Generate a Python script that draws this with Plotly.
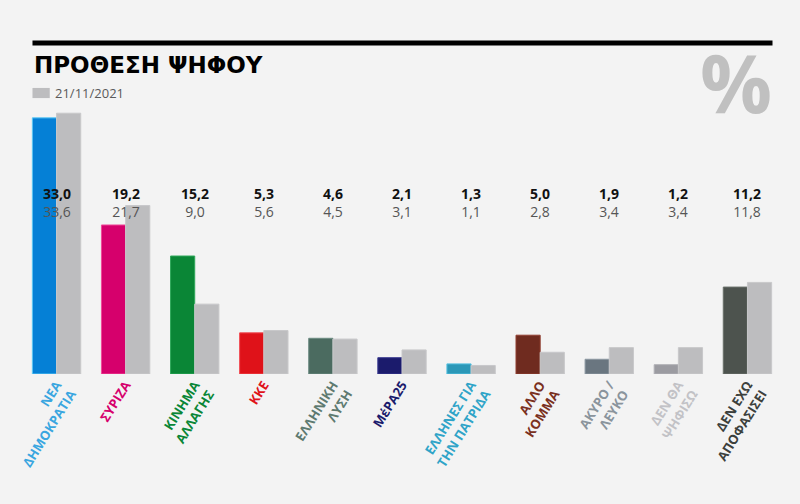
import plotly.graph_objects as go

# party / answer labels (two lines where the original wraps)
categories = [
    "ΝΕΑ<br>ΔΗΜΟΚΡΑΤΙΑ", "ΣΥΡΙΖΑ", "ΚΙΝΗΜΑ<br>ΑΛΛΑΓΗΣ", "ΚΚΕ", "ΕΛΛΗΝΙΚΗ<br>ΛΥΣΗ",
    "ΜέΡΑ25", "ΕΛΛΗΝΕΣ ΓΙΑ<br>ΤΗΝ ΠΑΤΡΙΔΑ", "ΑΛΛΟ<br>ΚΟΜΜΑ", "ΑΚΥΡΟ /<br>ΛΕΥΚΟ",
    "ΔΕΝ ΘΑ<br>ΨΗΦΙΣΩ", "ΔΕΝ ΕΧΩ<br>ΑΠΟΦΑΣΙΣΕΙ",
]
current = [33.0, 19.2, 15.2, 5.3, 4.6, 2.1, 1.3, 5.0, 1.9, 1.2, 11.2]
previous = [33.6, 21.7, 9.0, 5.6, 4.5, 3.1, 1.1, 2.8, 3.4, 3.4, 11.8]
previous_date = "21/11/2021"

bar_colors = ["#0580d6", "#d6006c", "#0a8636", "#df1219", "#4b6b60", "#1b1b6c",
              "#2b98b8", "#6f2b1f", "#6a7680", "#9b9ba1", "#4d534e"]
edge_colors = ["#5cc8f5", "#f04a9a", "#2fa85a", "#f04a50", "#6a8a80", "#3a3a90",
               "#55c0e0", "#903e30", "#8a96a0", "#b0b0b6", "#6a706a"]
label_colors = ["#3aa6e0", "#d6006c", "#0a8636", "#df1219", "#5e7a70", "#1b1b6c",
                "#2fa4c8", "#7a3020", "#8a949c", "#c2c2c6", "#3c403c"]
grey = "#bdbdbf"
bg = "#f3f3f3"

# numbers shown with a Greek decimal comma
fmt = lambda v: f"{v:.1f}".replace(".", ",")

tick_text = [
    "<br>".join(f"<span style='color:{c}'>{part}</span>" for part in name.split("<br>"))
    for name, c in zip(categories, label_colors)
]

fig = go.Figure()
fig.add_trace(go.Bar(
    x=list(range(len(categories))),
    y=current,
    marker=dict(color=bar_colors, line=dict(color=edge_colors, width=1)),
    showlegend=False,
))
fig.add_trace(go.Bar(
    x=list(range(len(categories))),
    y=previous,
    name=previous_date,
    marker=dict(color=grey, line=dict(color="#c8c8ca", width=1)),
    showlegend=False,
))

# current value in bold, previous value underneath in grey
for i, (c, p) in enumerate(zip(current, previous)):
    fig.add_annotation(
        x=i, y=0.627, xref="x", yref="paper", yanchor="middle",
        text=f"<b>{fmt(c)}</b><br><span style='color:#555555'>{fmt(p)}</span>",
        showarrow=False,
        font=dict(family="Open Sans", size=14, color="#111111"),
    )

# header: rule, title, legend swatch, percent sign
fig.add_shape(type="line", xref="paper", yref="paper",
              x0=0.0138, x1=0.9875, y0=1.208, y1=1.208,
              line=dict(color="#000000", width=5))
fig.add_annotation(
    x=0.0138, y=1.128, xref="paper", yref="paper", xanchor="left", yanchor="middle",
    text="<b>ΠΡΟΘΕΣΗ ΨΗΦΟΥ</b>", showarrow=False,
    font=dict(family="DejaVu Sans", size=23, color="#000000"),
)
fig.add_shape(type="rect", xref="paper", yref="paper",
              x0=0.0138, x1=0.0365, y0=1.007, y1=1.044,
              fillcolor=grey, line=dict(width=0))
fig.add_annotation(
    x=0.0405, y=1.026, xref="paper", yref="paper", xanchor="left", yanchor="middle",
    text=previous_date, showarrow=False,
    font=dict(family="Open Sans", size=13, color="#5a5a5a"),
)
fig.add_annotation(
    x=0.99, y=1.068, xref="paper", yref="paper", xanchor="right", yanchor="middle",
    text="<b>%</b>", showarrow=False,
    font=dict(family="Open Sans", size=80, color="#c0c0c0"),
)

fig.update_layout(
    width=800,
    height=504,
    margin=dict(l=22, r=18, t=100, b=130),
    paper_bgcolor=bg,
    plot_bgcolor=bg,
    barmode="group",
    bargap=0.3,
    bargroupgap=0,
    xaxis=dict(
        range=[-0.5, len(categories) - 0.5],
        tickmode="array",
        tickvals=list(range(len(categories))),
        ticktext=tick_text,
        tickangle=-58,
        tickfont=dict(family="Open Sans", size=13, weight="bold"),
        showgrid=False,
        zeroline=False,
        showline=False,
        ticks="",
        automargin=False,
    ),
    yaxis=dict(
        range=[0, 35.3],
        visible=False,
        showgrid=False,
        automargin=False,
    ),
)

# drop the page margin so the figure fills the window
fig.write_html(
    "out.html",
    config={"displayModeBar": False},
    post_script=f"document.body.style.margin='0';document.body.style.background='{bg}';",
)
